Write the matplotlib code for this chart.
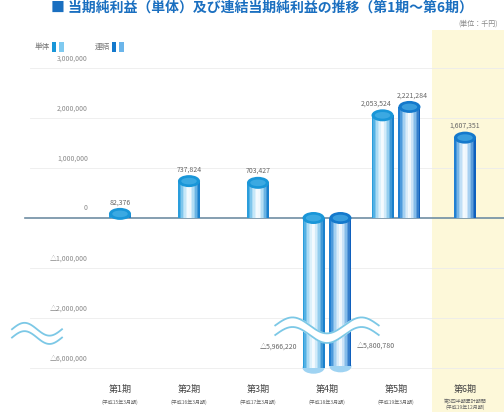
import numpy as np
import matplotlib.pyplot as plt
import matplotlib.transforms as mtransforms
from matplotlib.patches import Ellipse, Rectangle
from matplotlib.colors import LinearSegmentedColormap

plt.rcParams['font.family'] = ['Noto Sans CJK JP', 'DejaVu Sans']

# data (単位：千円)
periods = ["第1期", "第2期", "第3期", "第4期", "第5期", "第6期"]
sublabels = ["(平成15年3月期)", "(平成16年3月期)", "(平成17年3月期)",
             "(平成18年3月期)", "(平成19年3月期)", "第3四半期累計期間\n(平成19年12月期)"]
tantai = [82376, 737824, 703427, -5966220, 2053524, np.nan]
renketsu = [np.nan, np.nan, np.nan, -5800780, 2221284, 1607351]
yticks = [3000000, 2000000, 1000000, 0, -1000000, -2000000, -6000000]

# broken y axis: compress everything below BRK
BRK = -2.4e6
K = 1 / 6

def fwd(v):
    v = np.asarray(v, float)
    return np.where(v >= BRK, v, BRK + (v - BRK) * K)

def inv(v):
    v = np.asarray(v, float)
    return np.where(v >= BRK, v, BRK + (v - BRK) / K)

def fmt(v):
    s = f"{abs(v):,.0f}"
    return s if v >= 0 else "△" + s

W, H = 504, 412
fig = plt.figure(figsize=(W / 100, H / 100), dpi=100)
fig.patch.set_facecolor("white")

# forecast period shading
fig.patches.append(Rectangle((432 / W, 0), 72 / W, 382 / H, transform=fig.transFigure,
                             facecolor="#fdf8d9", edgecolor="none", zorder=-1))

ax = fig.add_axes([0, 37 / H, 1, 320 / H])
ax.set_facecolor("none")
ax.set_yscale("function", functions=(fwd, inv))
ax.set_xlim(-120 / 69, 384 / 69)
ax.set_ylim(float(inv(-3.14e6)), 3.26e6)
for s in ax.spines.values():
    s.set_visible(False)
ax.set_xticks([])
ax.set_yticks([])

# grid + y labels
lab_tr = mtransforms.blended_transform_factory(ax.transAxes, ax.transData)
for t in yticks:
    if t == 0:
        ax.axhline(0, xmin=25 / W, color="#6f8ea3", lw=1.2, zorder=3)
    else:
        ax.axhline(t, xmin=30 / W, color="#ececec", lw=0.6, zorder=1)
    ax.annotate(fmt(t), (88 / W, t), xycoords=lab_tr, xytext=(0, 4),
                textcoords="offset points", ha="right", va="bottom",
                fontsize=5, color="#8a8a8a")

cmap_t = LinearSegmentedColormap.from_list(
    "t", ["#2a9ddc", "#b5e0f6", "#ffffff", "#9dd3f1", "#1a80cc"])
cmap_r = LinearSegmentedColormap.from_list(
    "r", ["#2280d2", "#aed6f3", "#ffffff", "#8ec3ed", "#0f60bd"])

bw = 0.32
nsl = 14
x = np.arange(len(periods))

def cylinder(xc, val, cmap, cap):
    edges = np.linspace(xc - bw / 2, xc + bw / 2, nsl + 1)
    for i in range(nsl):
        ax.bar(edges[i], val, width=bw / nsl, align="edge",
               color=cmap(i / (nsl - 1)), linewidth=0, zorder=4)
    ew, eh = bw * 69 / 100, 0.12
    top = max(val, 0)
    bot = min(val, 0)
    tr_top = fig.dpi_scale_trans + mtransforms.ScaledTranslation(xc, top, ax.transData)
    ax.add_patch(Ellipse((0, 0), ew, eh, transform=tr_top, facecolor=cap,
                         edgecolor="none", zorder=5))
    ax.add_patch(Ellipse((0, 0), ew * 0.7, eh * 0.55, transform=tr_top,
                         facecolor="#52b6ea", edgecolor="none", alpha=0.6, zorder=5))
    if bot < 0:
        tr_bot = fig.dpi_scale_trans + mtransforms.ScaledTranslation(xc, bot, ax.transData)
        ax.add_patch(Ellipse((0, 0), ew, eh, transform=tr_bot, facecolor="#9fd3f2",
                             edgecolor="none", zorder=3.5))

for i in range(len(periods)):
    a, b = tantai[i], renketsu[i]
    both = not np.isnan(a) and not np.isnan(b)
    off = 0.195 if both else 0
    if not np.isnan(a):
        cylinder(x[i] - off, a, cmap_t, "#1996d8")
        if a >= 0:
            ax.annotate(fmt(a), (x[i] - off, a), xytext=(-5 if both else 0, 7),
                        textcoords="offset points", ha="center", fontsize=5, color="#666")
        else:
            ax.annotate(fmt(a), (x[i] - off, a), xytext=(-12, 12),
                        textcoords="offset points", ha="right", va="bottom",
                        fontsize=5, color="#666")
    if not np.isnan(b):
        cylinder(x[i] + off, b, cmap_r, "#1479cc")
        if b >= 0:
            ax.annotate(fmt(b), (x[i] + off, b), xytext=(2 if both else 0, 7),
                        textcoords="offset points", ha="center", fontsize=5, color="#666")
        else:
            ax.annotate(fmt(b), (x[i] + off, b), xytext=(12, 12),
                        textcoords="offset points", ha="left", va="bottom",
                        fontsize=5, color="#666")

# break marks
wave_tr = mtransforms.blended_transform_factory(ax.transData, ax.transAxes)
xs = np.linspace(x[3] - 0.75, x[3] + 0.75, 200)
ph = (xs - xs[0]) / (xs[-1] - xs[0]) * 2 * np.pi * 1.5
ax.plot(xs, 0.14 + 0.025 * np.sin(ph), transform=wave_tr, color="white", lw=7, zorder=6)
for dy in (-0.015, 0.015):
    ax.plot(xs, 0.14 + dy + 0.025 * np.sin(ph), transform=wave_tr,
            color="#7cc8e6", lw=1.3, zorder=7)
xl = np.linspace(12 / W, 62 / W, 100)
phl = (xl - xl[0]) / (xl[-1] - xl[0]) * 2 * np.pi
for dy in (-0.013, 0.013):
    ax.plot(xl, 0.13 + dy + 0.02 * np.sin(phl), transform=ax.transAxes,
            color="#7cc8e6", lw=1.3, zorder=7)

# category labels
cat_tr = mtransforms.blended_transform_factory(ax.transData, ax.transAxes)
for i, (p, s) in enumerate(zip(periods, sublabels)):
    ax.text(x[i], -0.03, p, transform=cat_tr, ha="center", va="top",
            fontsize=6.5, color="#444")
    ax.text(x[i], -0.075, s, transform=cat_tr, ha="center", va="top",
            fontsize=3.6, color="#666", linespacing=1.1)

# title, unit, legend
fig.text(0.52, 1 - 8 / H, "■ 当期純利益（単体）及び連結当期純利益の推移（第1期〜第6期）",
         ha="center", va="center", fontsize=10, color="#1a6fc0", fontweight="bold")
fig.text(498 / W, 1 - 24 / H, "(単位：千円)", ha="right", va="center",
         fontsize=5, color="#888")
for lx, name, c1, c2 in [(35, "単体", "#1996d8", "#7fcaf0"), (95, "連結", "#1479cc", "#6bb5ea")]:
    fig.text(lx / W, 1 - 47 / H, name, ha="left", va="center", fontsize=5.5, color="#777")
    fig.patches.append(Rectangle(((lx + 17) / W, 1 - 52 / H), 4 / W, 10 / H,
                                 transform=fig.transFigure, facecolor=c1, edgecolor="none"))
    fig.patches.append(Rectangle(((lx + 24) / W, 1 - 52 / H), 5 / W, 10 / H,
                                 transform=fig.transFigure, facecolor=c2, edgecolor="none"))

fig.savefig("out.png", dpi=100)
